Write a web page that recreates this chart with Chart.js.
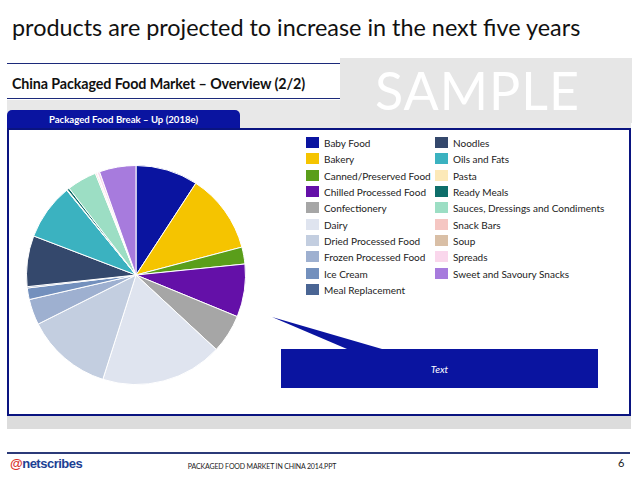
<!DOCTYPE html>
<html>
<head>
<meta charset="utf-8">
<script src="https://cdn.jsdelivr.net/npm/chart.js@4.4.0/dist/chart.umd.min.js"></script>
<style>
  html,body{margin:0;padding:0;background:#fff;}
  body{width:638px;height:479px;position:relative;overflow:hidden;font-family:Lato,"Open Sans",sans-serif;}
  .abs{position:absolute;}
  #title{left:12px;top:13px;font-size:23.4px;color:#111;white-space:nowrap;}
  .hline{position:absolute;height:1px;background:#1c2a7a;}
  #sub{left:12px;top:75px;font-size:14.3px;font-weight:bold;color:#111;white-space:nowrap;letter-spacing:-0.1px;}
  #sample{left:340px;top:58px;width:292px;height:65px;background:#e6e6e6;}
  #sampleTxt{left:375px;top:58px;font-size:52px;color:#fff;line-height:65px;letter-spacing:1px;}
  #band{left:7px;top:100px;width:624px;height:329px;background:#dcdcdc;}
  #bandTop{left:7px;top:100px;width:624px;height:29px;background:#e8e8e8;}
  #tab{left:7px;top:110px;width:233px;height:19px;background:#0a14a0;border-radius:5px 5px 0 0;color:#fff;font-size:9.6px;font-weight:bold;text-align:center;line-height:20px;}
  #box{left:7px;top:128px;width:620px;height:284px;background:#fff;border:2px solid #0a1480;}
  #legend{left:306px;top:137px;font-size:10px;color:#222;}
  .li{position:absolute;white-space:nowrap;height:12px;line-height:12px;}
  .sw{position:absolute;left:0;top:0;width:13px;height:11px;}
  .lt{position:absolute;left:18px;top:0;}
  #callout{left:272px;top:316px;}
  #textbox{left:281px;top:349px;width:317px;height:39px;background:#0a14a0;color:#fff;font-style:italic;font-size:10px;text-align:center;line-height:40px;}
  #footline{left:7px;top:452px;width:623px;height:2px;background:#2b3a78;}
  #foot{left:0;top:462px;width:524px;text-align:center;font-size:7px;color:#222;letter-spacing:-0.15px;}
  #page{left:618px;top:456px;font-size:11px;color:#222;}
  #logo{left:10px;top:456px;font-size:13px;font-weight:bold;color:#1c3f94;font-family:"Liberation Sans",Arial,sans-serif;letter-spacing:-0.5px;}
  #logo span{color:#d9342b;}
  #chartWrap{left:26px;top:165px;width:220px;height:220px;}
</style>
</head>
<body>
<div id="title" class="abs">products are projected to increase in the next five years</div>
<div class="hline" style="left:7px;top:63px;width:333px;"></div>
<div id="sub" class="abs">China Packaged Food Market – Overview (2/2)</div>
<div class="hline" style="left:7px;top:98px;width:333px;"></div>
<div id="band" class="abs"></div>
<div id="bandTop" class="abs"></div>
<div id="sample" class="abs"></div>
<div id="sampleTxt" class="abs">SAMPLE</div>
<div id="tab" class="abs">Packaged Food Break – Up (2018e)</div>
<div id="box" class="abs"></div>
<div id="chartWrap" class="abs"><canvas id="c" width="220" height="220"></canvas></div>
<div id="legend" class="abs"></div>
<svg id="callout" class="abs" width="120" height="40">
  <polygon points="0,1 75,33 110,33" fill="#0a14a0"/>
</svg>
<div id="textbox" class="abs">Text</div>
<div id="footline" class="abs"></div>
<div id="logo" class="abs"><span>@</span>netscribes</div>
<div id="foot" class="abs">PACKAGED FOOD MARKET IN CHINA 2014.PPT</div>
<div id="page" class="abs">6</div>
<script>
const categories = ["Baby Food","Bakery","Canned/Preserved Food","Chilled Processed Food","Confectionery","Dairy","Dried Processed Food","Frozen Processed Food","Ice Cream","Meal Replacement","Noodles","Oils and Fats","Pasta","Ready Meals","Sauces, Dressings and Condiments","Snack Bars","Soup","Spreads","Sweet and Savoury Snacks"];
const shares = [9.2,11.7,2.5,7.8,5.7,18.0,12.7,3.8,1.7,0.2,7.5,8.3,0.1,0.35,4.4,0.2,0.1,0.35,5.4];
const colors = ["#0a14a0","#f5c400","#5a9e1a","#6410a8","#a6a6a6","#dfe4ef","#c3cee0","#9eb0d0","#7390bd","#4a6594","#34486c","#3bb2c0","#fce9b8","#0e6e6a","#9cdec4","#f5c6c2","#d9bfa6","#fad7ec","#a77bdd"];

new Chart(document.getElementById('c'), {
  type: 'pie',
  data: { labels: categories, datasets: [{ data: shares, backgroundColor: colors, borderColor: '#fff', borderWidth: 1 }] },
  options: {
    responsive: false, animation: false,
    layout: { padding: 0 },
    plugins: { legend: { display: false }, tooltip: { enabled: false } }
  }
});

const lg = document.getElementById('legend');
const rowH = 16.35;
categories.forEach((name, i) => {
  const col = i < 10 ? 0 : 1;
  const row = i < 10 ? i : i - 10;
  const d = document.createElement('div');
  d.className = 'li';
  d.style.left = (col * 129) + 'px';
  d.style.top = (row * rowH) + 'px';
  d.innerHTML = '<div class="sw" style="background:' + colors[i] + '"></div><div class="lt">' + name + '</div>';
  lg.appendChild(d);
});
</script>
</body>
</html>
